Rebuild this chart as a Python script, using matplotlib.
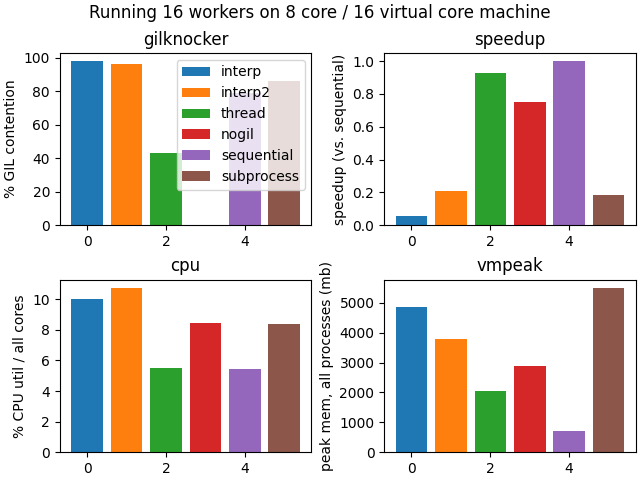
import matplotlib
matplotlib.use("Agg")
import matplotlib.pyplot as plt
from matplotlib.ticker import MultipleLocator

modes = ["interp", "interp2", "thread", "nogil", "sequential", "subprocess"]
gil_contention = [98, 96, 43, 0, 79, 86]
speedup = [0.055, 0.21, 0.93, 0.75, 1.0, 0.185]
cpu_util = [10.0, 10.75, 5.5, 8.45, 5.45, 8.4]
vmpeak_mb = [4870, 3800, 2050, 2900, 700, 5500]

panels = [
    ("gilknocker", "% GIL contention", gil_contention, 20),
    ("speedup", "speedup (vs. sequential)", speedup, 0.2),
    ("cpu", "% CPU util / all cores", cpu_util, 2),
    ("vmpeak", "peak mem, all processes (mb)", vmpeak_mb, 1000),
]

fig, axes = plt.subplots(2, 2, figsize=(6.4, 4.8), dpi=100, layout="constrained")
for ax, (title, ylabel, vals, step) in zip(axes.flat, panels):
    for i, (m, v) in enumerate(zip(modes, vals)):
        ax.bar(i, v, color=f"C{i}", label=m)
    ax.set_title(title)
    ax.set_ylabel(ylabel)
    ax.yaxis.set_major_locator(MultipleLocator(step))
axes[0, 0].legend(loc="upper right")
fig.suptitle("Running 16 workers on 8 core / 16 virtual core machine")
fig.savefig("out.png")
